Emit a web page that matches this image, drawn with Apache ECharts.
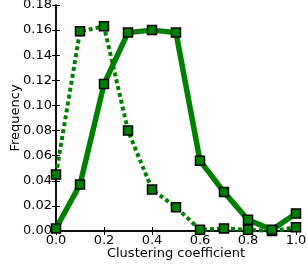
<!DOCTYPE html>
<html><head><meta charset="utf-8">
<script src="https://cdn.jsdelivr.net/npm/echarts@6/dist/echarts.min.js"></script>
<style>html,body{margin:0;padding:0;background:#fff}#c{width:307px;height:269px}</style>
</head><body><div id="c"></div>
<script>
const xValues = [0.0,0.1,0.2,0.3,0.4,0.5,0.6,0.7,0.8,0.9,1.0];
const solidValues = [0.002,0.037,0.117,0.158,0.160,0.158,0.056,0.031,0.009,0.001,0.014];
const dottedValues = [0.045,0.159,0.163,0.080,0.033,0.019,0.001,0.002,0.001,0.000,0.003];
const xTicks = [0.0,0.2,0.4,0.6,0.8,1.0];
const yTicks = [0.00,0.02,0.04,0.06,0.08,0.10,0.12,0.14,0.16,0.18];

const green = '#008000';
const font = 'DejaVu Sans';
const chart = echarts.init(document.getElementById('c'), null, {renderer:'canvas'});
const pair = v => xValues.map((x,i)=>[x,v[i]]);
const tickStyle = {show:true, inside:true, length:4, lineStyle:{color:'#000', width:1}};
chart.setOption({
  animation:false,
  grid:{left:56,right:11,top:5,bottom:38,containLabel:false,outerBoundsMode:'none'},
  xAxis:[{
    type:'value', min:0, max:1, interval:0.2,
    axisLine:{show:true, lineStyle:{color:'#000', width:1.5}},
    axisTick:tickStyle, splitLine:{show:false},
    axisLabel:{color:'#000', fontFamily:font, fontSize:13, margin:3, formatter:v=>v.toFixed(1)},
    name:'Clustering coefficient', nameLocation:'middle', nameGap:16, nameMoveOverlap:false,
    nameTextStyle:{color:'#000', fontFamily:font, fontSize:13}
  },{
    type:'value', position:'top', min:0, max:1, interval:0.2,
    axisLine:{show:true, lineStyle:{color:'#000', width:1.5}},
    axisTick:tickStyle, axisLabel:{show:false}, splitLine:{show:false}
  }],
  yAxis:[{
    type:'value', min:0, max:0.18, interval:0.02,
    axisLine:{show:true, lineStyle:{color:'#000', width:1.5}},
    axisTick:tickStyle, splitLine:{show:false},
    axisLabel:{color:'#000', fontFamily:font, fontSize:13, margin:4, formatter:v=>v.toFixed(2)},
    name:'Frequency', nameLocation:'middle', nameGap:34, nameMoveOverlap:false,
    nameTextStyle:{color:'#000', fontFamily:font, fontSize:13}
  },{
    type:'value', position:'right', min:0, max:0.18, interval:0.02,
    axisLine:{show:true, lineStyle:{color:'#000', width:1.5}},
    axisTick:tickStyle, axisLabel:{show:false}, splitLine:{show:false}
  }],
  series:[{
    type:'line', data:pair(dottedValues), clip:false,
    lineStyle:{color:green, width:4, type:[4,3]},
    symbol:'rect', symbolSize:9,
    itemStyle:{color:green, borderColor:'#000', borderWidth:1.5}
  },{
    type:'line', data:pair(solidValues), clip:false,
    lineStyle:{color:green, width:5.5},
    symbol:'rect', symbolSize:9,
    itemStyle:{color:green, borderColor:'#000', borderWidth:1.5}
  }]
});
</script></body></html>
